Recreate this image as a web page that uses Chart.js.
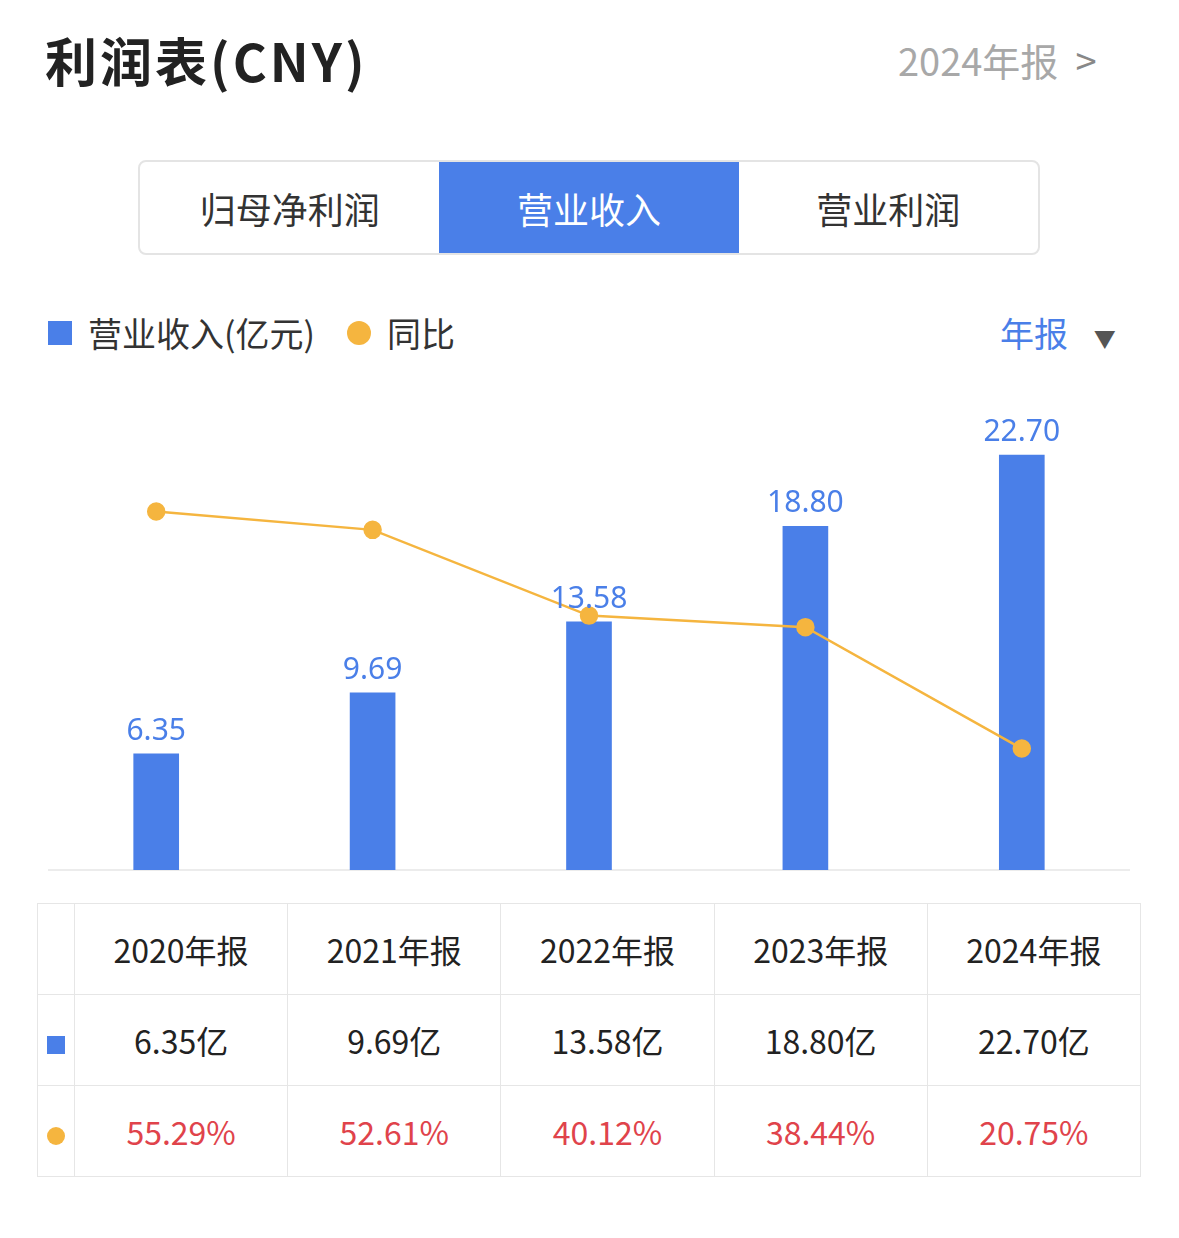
<!DOCTYPE html>
<html><head><meta charset="utf-8">
<script src="https://cdn.jsdelivr.net/npm/chart.js@4"></script>
<style>
body{margin:0;width:1179px;height:1238px;background:#fff;font-family:"Noto Sans CJK SC","Noto Sans",sans-serif;position:relative;overflow:hidden}
.abs{position:absolute}
#title{left:45px;top:22px;font-size:52px;font-weight:bold;color:#222;letter-spacing:3px}
#rep{left:898px;top:32px;font-size:38px;color:#a8a8a8}
#tabs{left:138px;top:160px;width:902px;height:95px;border:2px solid #e4e4e4;border-radius:8px;display:flex;box-sizing:border-box;overflow:hidden}
#tabs div{flex:1;display:flex;align-items:center;justify-content:center;font-size:36px;color:#333}
#tabs .on{background:#4A7FE8;color:#fff}
#legend{left:48px;top:308px;font-size:34px;color:#333;display:flex;align-items:center}
#nb{left:1000px;top:308px;font-size:34px;color:#4A7FE8}
#base{left:48px;top:869px;width:1082px;height:2px;background:#ececec}
table{position:absolute;left:37px;top:903px;width:1104px;table-layout:fixed;border-collapse:collapse;font-size:32px;color:#222}
td{border:1.5px solid #e6e6e6;height:90px;text-align:center;padding:0}
td.f{width:36px}
.red{color:#E0434B}
</style></head><body>
<div id="title" class="abs">利润表(CNY)</div>
<div id="rep" class="abs">2024年报 &nbsp;<span style="color:#888">&gt;</span></div>
<div id="tabs" class="abs"><div>归母净利润</div><div class="on">营业收入</div><div>营业利润</div></div>
<div id="legend" class="abs"><span style="display:inline-block;width:24px;height:24px;background:#4A7FE8;margin-right:16px"></span>营业收入(亿元)<span style="display:inline-block;width:24px;height:24px;border-radius:50%;background:#F5B53F;margin:0 16px 0 32px"></span>同比</div>
<div id="nb" class="abs">年报 <span style="font-size:22px;color:#555;margin-left:18px">▼</span></div>
<div id="base" class="abs"></div>
<canvas id="c" class="abs" width="1082" height="500" style="left:48px;top:370px"></canvas>
<table id="tbl"></table>
<script>
const years = ["2020年报","2021年报","2022年报","2023年报","2024年报"];
const revenue = [6.35, 9.69, 13.58, 18.80, 22.70];
const growth = [55.29, 52.61, 40.12, 38.44, 20.75];

let rows = '<tr><td class="f"></td>' + years.map(y => '<td>' + y + '</td>').join('') + '</tr>';
rows += '<tr><td class="f"><span style="display:inline-block;width:18px;height:18px;background:#4A7FE8"></span></td>' + revenue.map(v => '<td>' + v.toFixed(2) + '亿</td>').join('') + '</tr>';
rows += '<tr><td class="f"><span style="display:inline-block;width:18px;height:18px;border-radius:50%;background:#F5B53F"></span></td>' + growth.map(v => '<td class="red">' + v.toFixed(2) + '%</td>').join('') + '</tr>';
document.getElementById('tbl').innerHTML = rows;

const labels = {
  id: 'labels',
  afterDatasetsDraw(chart) {
    let ctx = chart.ctx;
    ctx.save();
    ctx.fillStyle = '#4A7FE8';
    ctx.font = '30px "Noto Sans","Noto Sans CJK SC"';
    ctx.textAlign = 'center';
    chart.getDatasetMeta(1).data.forEach((b, i) => {
      ctx.fillText(revenue[i].toFixed(2), b.x, b.y - 14);
    });
    ctx.restore();
  }
};

new Chart(document.getElementById('c'), {
  data: {
    labels: years,
    datasets: [
      {type: 'line', data: growth, yAxisID: 'y2', borderColor: '#F5B53F', borderWidth: 2.5,
       pointBackgroundColor: '#F5B53F', pointBorderColor: '#F5B53F', pointRadius: 8, tension: 0},
      {type: 'bar', data: revenue, yAxisID: 'y', backgroundColor: '#4A7FE8', barThickness: 45}
    ]
  },
  options: {
    responsive: false, animation: false, devicePixelRatio: 1,
    layout: {padding: 0, autoPadding: false},
    plugins: {legend: {display: false}, tooltip: {enabled: false}},
    scales: {
      x: {display: false},
      y: {display: false, min: 0, max: 27.35},
      y2: {display: false, min: 3.06, max: 75.9}
    }
  },
  plugins: [labels]
});
</script>
</body></html>
